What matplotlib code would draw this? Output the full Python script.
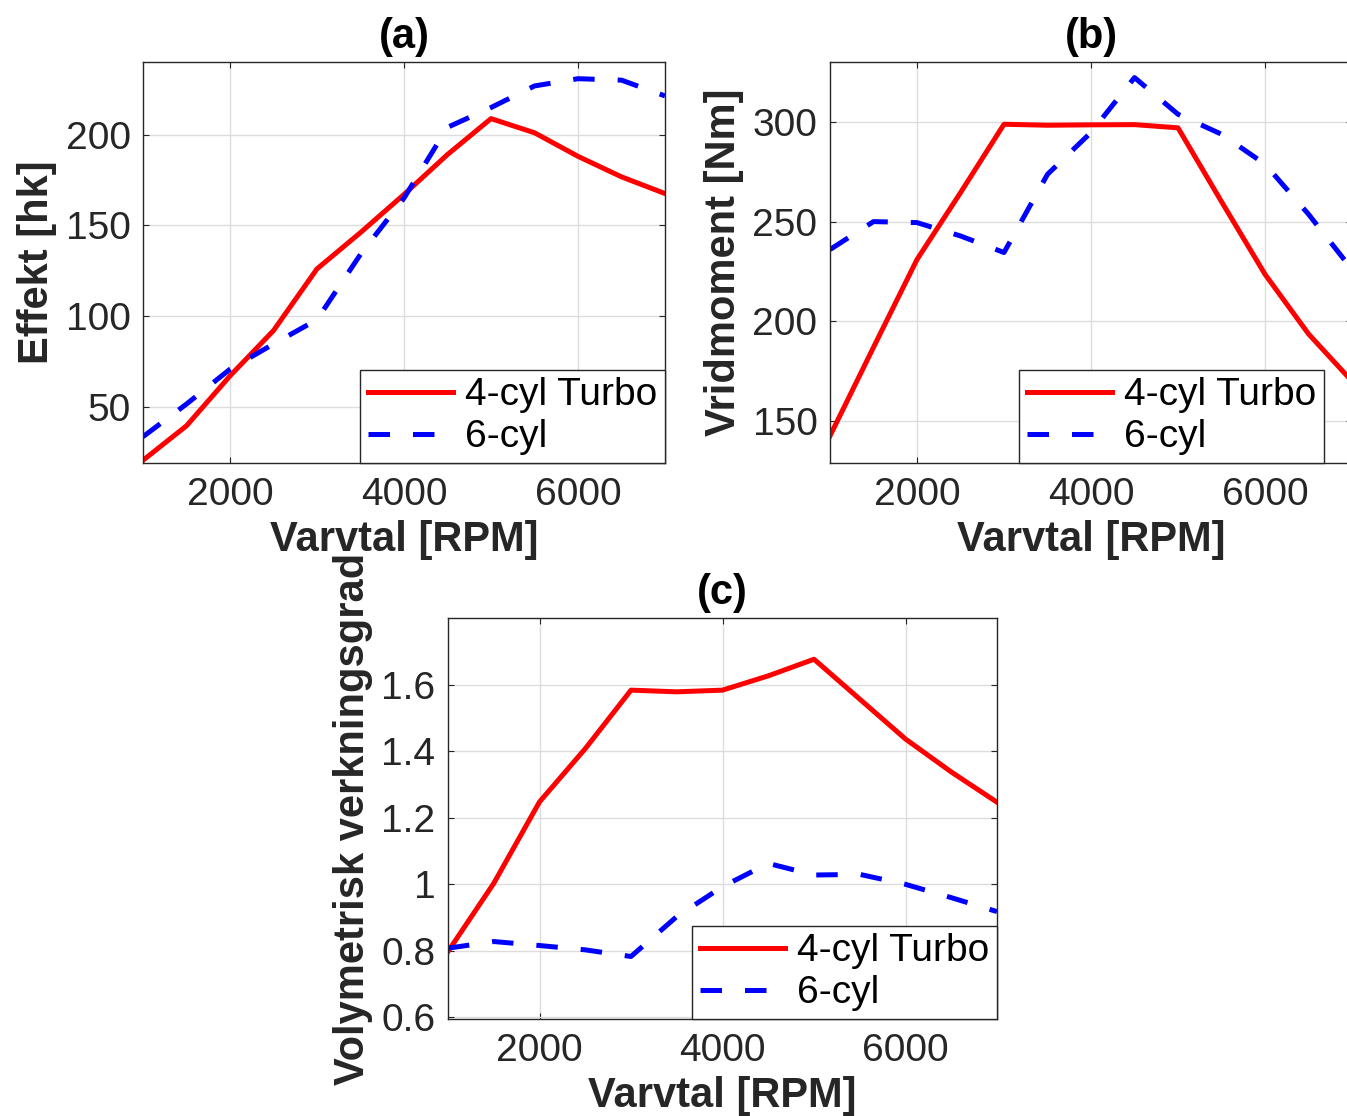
import numpy as np
import matplotlib
matplotlib.use("Agg")
import matplotlib.pyplot as plt
from matplotlib.ticker import FuncFormatter

plt.rcParams.update(
    {
        "font.family": ["Liberation Sans", "DejaVu Sans"],
        "axes.linewidth": 1.0,
        "axes.edgecolor": "#262626",
        "xtick.color": "#262626",
        "ytick.color": "#262626",
        "xtick.direction": "in",
        "ytick.direction": "in",
        "xtick.top": True,
        "ytick.right": True,
        "xtick.major.size": 4,
        "ytick.major.size": 4,
        "xtick.major.pad": 10,
        "ytick.major.pad": 9,
        "xtick.labelsize": 28,
        "ytick.labelsize": 28,
    }
)

rpm = [1000, 1500, 2000, 2500, 3000, 3500, 4000, 4500, 5000, 5500, 6000, 6500, 7000]

# (a) effekt [hk]
power_turbo = [20.5, 39.5, 67, 92, 126, 146, 167, 189, 208.8, 201, 188, 176.7, 167.5]
power_6cyl = [33.5, 51.5, 70.7, 84.6, 98, 134, 165, 204, 214.9, 226.8, 230.8, 230, 221.3]

# (b) vridmoment [Nm]
torque_turbo = [142.6, 187, 231, 264.5, 298.8, 298.3, 298.5, 298.6, 297, 260, 223.6, 193.7, 170]
torque_6cyl = [236, 250, 249.5, 242.8, 234.5, 273.7, 294.7, 322.2, 303.8, 293.8, 278.8, 253.7, 226]

# (c) volymetrisk verkningsgrad
vol_turbo = [0.797, 1.002, 1.247, 1.407, 1.583, 1.578, 1.583, 1.626, 1.676, 1.556, 1.436, 1.337, 1.246]
vol_6cyl = [0.807, 0.827, 0.815, 0.802, 0.782, 0.902, 0.992, 1.062, 1.027, 1.029, 0.999, 0.959, 0.917]

labels = ["4-cyl Turbo", "6-cyl"]

W, H = 1347, 1116
fig = plt.figure(figsize=(W / 100, H / 100), dpi=100)


def box(l, t, r, b):
    return [l / W, (H - b) / H, (r - l) / W, (b - t) / H]


def panel(rect, y1, y2, title, ylabel, ylim, yticks, leg_x):
    ax = fig.add_axes(rect)
    ax.plot(rpm, y1, color="red", lw=3.6, label=labels[0])
    ax.plot(rpm, y2, color="blue", lw=3.6, ls=(0, (4.3, 4.6)), label=labels[1])
    ax.set_xlim(1000, 7000)
    ax.set_ylim(*ylim)
    ax.set_xticks([2000, 4000, 6000])
    ax.set_yticks(yticks)
    ax.yaxis.set_major_formatter(FuncFormatter(lambda v, p: f"{v:g}"))
    ax.grid(True, color="#dcdcdc", lw=1.0)
    ax.set_axisbelow(True)
    ax.set_title(title, fontsize=30, fontweight="bold", pad=10)
    ax.set_xlabel("Varvtal [RPM]", fontsize=30, fontweight="bold",
                  color="#262626", labelpad=5)
    ax.set_ylabel(ylabel, fontsize=30, fontweight="bold", color="#262626",
                  labelpad=6)
    leg = ax.legend(loc="lower right", bbox_to_anchor=(leg_x, 0),
                    borderaxespad=0, fontsize=28, fancybox=False,
                    framealpha=1, edgecolor="#262626", handlelength=2.2,
                    handletextpad=0.3, labelspacing=0.15, borderpad=0.2)
    leg.get_frame().set_linewidth(1.0)
    return ax


panel(box(143, 62, 665, 463), power_turbo, power_6cyl, "(a)", "Effekt [hk]",
      (19, 240), [50, 100, 150, 200], 1.0)
panel(box(830, 62, 1352, 463), torque_turbo, torque_6cyl, "(b)",
      "Vridmoment [Nm]", (129, 330), [150, 200, 250, 300], 0.946)
panel(box(448, 618, 997, 1019), vol_turbo, vol_6cyl, "(c)",
      "Volymetrisk verkningsgrad", (0.594, 1.8),
      [0.6, 0.8, 1.0, 1.2, 1.4, 1.6], 1.0)

fig.savefig("out.png", dpi=100)
